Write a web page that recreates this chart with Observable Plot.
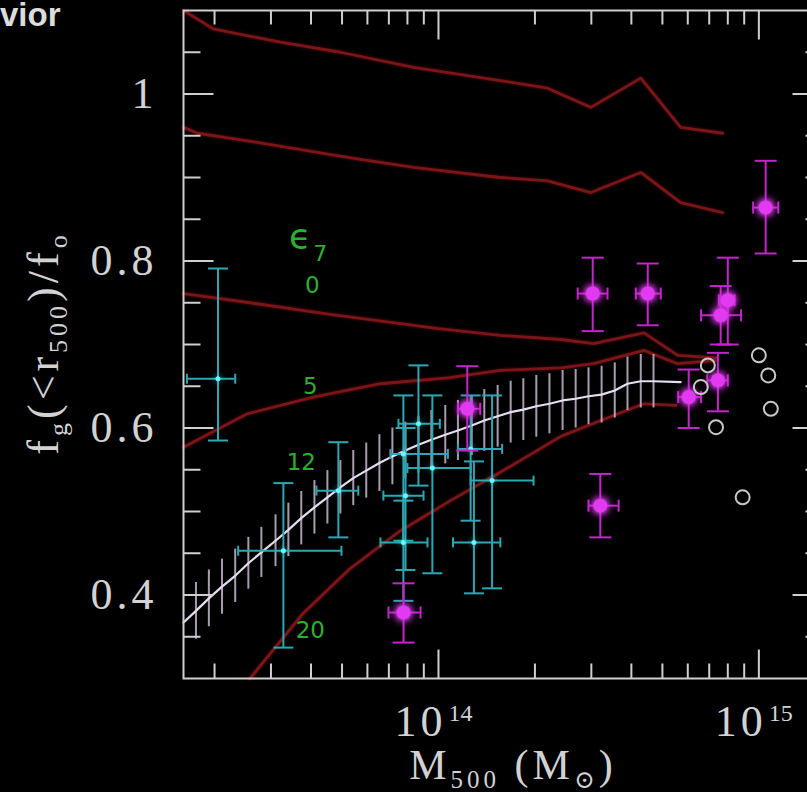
<!DOCTYPE html>
<html>
<head>
<meta charset="utf-8">
<script src="https://cdn.jsdelivr.net/npm/d3@7"></script>
<script src="https://cdn.jsdelivr.net/npm/@observablehq/plot@0.6"></script>
<style>
  html, body { margin: 0; padding: 0; background: #000; overflow: hidden; }
  #wrap { position: relative; width: 807px; height: 792px; overflow: hidden; background: #000; }
</style>
</head>
<body>
<div id="wrap"></div>
<script>
// ---- Axis limits and ticks ----
const massDomain = [1.6e13, 1.58e15];
const fracDomain = [0.3, 1.1];

const massMajorTicks = [1e14, 1e15];
const massTickExponents = ["14", "15"];
const massMinorTicks = [2e13, 3e13, 4e13, 5e13, 6e13, 7e13, 8e13, 9e13,
                        2e14, 3e14, 4e14, 5e14, 6e14, 7e14, 8e14, 9e14];
const fracMajorTicks = [0.4, 0.6, 0.8, 1.0];
const fracMajorLabels = ["0.4", "0.6", "0.8", "1"];
const fracMinorTicks = [0.35, 0.45, 0.5, 0.55, 0.65, 0.7, 0.75, 0.85, 0.9, 0.95, 1.05];

// ---- Model curves (red) ----
const modelTopMass  = [1.60e13, 1.98e13, 3.21e13, 4.94e13, 8.36e13, 1.56e14, 2.19e14, 2.99e14, 4.28e14, 5.70e14, 7.71e14];
const modelTopFrac  = [1.100, 1.078, 1.062, 1.050, 1.032, 1.016, 1.007, 0.984, 1.019, 0.960, 0.953];
const modelUpperMass = [1.60e13, 1.77e13, 2.53e13, 5.20e13, 8.36e13, 1.56e14, 2.19e14, 2.99e14, 4.28e14, 5.70e14, 7.71e14];
const modelUpperFrac = [0.960, 0.953, 0.944, 0.924, 0.912, 0.900, 0.896, 0.882, 0.906, 0.870, 0.858];
const modelEps0Mass = [1.60e13, 2.58e13, 4.59e13, 1.00e14, 1.56e14, 2.41e14, 3.05e14, 4.38e14, 5.58e14, 7.35e14];
const modelEps0Frac = [0.761, 0.750, 0.736, 0.719, 0.711, 0.706, 0.701, 0.714, 0.687, 0.684];
const modelEps5Mass = [1.60e13, 2.53e13, 4.07e13, 6.59e13, 1.07e14, 1.56e14, 2.41e14, 3.05e14, 4.38e14, 5.58e14, 7.35e14];
const modelEps5Frac = [0.577, 0.617, 0.637, 0.653, 0.660, 0.669, 0.672, 0.677, 0.693, 0.677, 0.681];
const modelEps20Mass = [2.58e13, 3.78e13, 5.31e13, 7.61e13, 1.09e14, 1.56e14, 2.41e14, 3.21e14, 4.38e14, 5.51e14];
const modelEps20Frac = [0.300, 0.378, 0.432, 0.477, 0.513, 0.547, 0.590, 0.609, 0.629, 0.627];

// ---- Simulated mean relation (white) with scatter bars ----
const simMass = [1.60e13, 1.75e13, 1.92e13, 2.11e13, 2.32e13, 2.55e13, 2.80e13, 3.10e13, 3.40e13, 3.73e13, 4.10e13,
                 4.50e13, 4.94e13, 5.42e13, 5.95e13, 6.54e13, 7.18e13, 7.88e13, 8.66e13, 9.50e13, 1.05e14,
                 1.15e14, 1.27e14, 1.39e14, 1.53e14, 1.68e14, 1.84e14, 2.02e14, 2.22e14, 2.44e14, 2.68e14,
                 2.94e14, 3.23e14, 3.55e14, 3.89e14, 4.28e14, 4.69e14, 5.70e14];
const simFrac = [0.367, 0.381, 0.396, 0.410, 0.423, 0.438, 0.451, 0.465, 0.478, 0.492, 0.505,
                 0.517, 0.529, 0.540, 0.549, 0.558, 0.566, 0.573, 0.580, 0.586, 0.592,
                 0.597, 0.603, 0.609, 0.614, 0.619, 0.622, 0.626, 0.629, 0.633, 0.635,
                 0.638, 0.640, 0.645, 0.653, 0.656, 0.656, 0.655];
const simErr  = [null, 0.034, 0.034, 0.033, 0.032, 0.031, 0.030, 0.031, 0.032, 0.032, 0.032,
                 0.032, 0.032, 0.033, 0.033, 0.034, 0.034, 0.034, 0.034, 0.035, 0.035,
                 0.036, 0.036, 0.037, 0.037, 0.037, 0.037, 0.037, 0.036, 0.036, 0.035,
                 0.034, 0.034, 0.033, 0.032, 0.032, 0.032, null];

// ---- Low-mass sample (cyan) ----
const cyanMass   = [2.05e13, 3.28e13, 4.87e13, 7.77e13, 7.89e13, 8.66e13, 9.57e13, 7.77e13, 1.26e14, 1.29e14, 1.47e14];
const cyanMassLo = [1.64e13, 2.37e13, 4.16e13, 7.08e13, 6.73e13, 7.50e13, 8.00e13, 6.59e13, 1.15e14, 1.11e14, 1.26e14];
const cyanMassHi = [2.32e13, 4.98e13, 5.62e13, 1.07e14, 8.98e13, 1.01e14, 1.26e14, 9.24e13, 1.58e14, 1.56e14, 1.98e14];
const cyanFrac   = [0.659, 0.453, 0.525, 0.569, 0.519, 0.605, 0.552, 0.463, 0.575, 0.463, 0.537];
const cyanFracLo = [0.585, 0.337, 0.469, 0.465, 0.430, 0.531, 0.426, 0.393, 0.489, 0.402, 0.408];
const cyanFracHi = [0.791, 0.534, 0.583, 0.639, 0.600, 0.675, 0.639, 0.513, 0.639, 0.560, 0.639];

// ---- High-mass sample (magenta) ----
const magMass   = [3.03e14, 4.50e14, 8.00e14, 7.60e14, 1.05e15, 3.20e14, 7.78e13, 1.23e14, 6.04e14, 7.45e14];
const magMassLo = [2.72e14, 4.13e14, 7.50e14, 6.60e14, 9.60e14, 2.94e14, 6.98e13, 1.15e14, 5.60e14, 6.90e14];
const magMassHi = [3.37e14, 4.94e14, 8.40e14, 8.80e14, 1.15e15, 3.65e14, 8.79e13, 1.35e14, 6.60e14, 8.00e14];
const magFrac   = [0.761, 0.761, 0.753, 0.735, 0.864, 0.507, 0.379, 0.623, 0.637, 0.657];
const magFracLo = [0.716, 0.723, 0.700, 0.700, 0.809, 0.469, 0.343, 0.573, 0.600, 0.620];
const magFracHi = [0.804, 0.797, 0.804, 0.770, 0.920, 0.545, 0.414, 0.674, 0.670, 0.690];

// ---- Open circles ----
const ringMass = [6.93e14, 6.59e14, 7.35e14, 1.00e15, 1.07e15, 1.09e15, 8.90e14];
const ringFrac = [0.675, 0.649, 0.601, 0.687, 0.663, 0.623, 0.517];

// ---- Curve annotations ----
const epsLabelText = ["0", "5", "12", "20"];
const epsLabelMass = [4.04e13, 3.98e13, 3.73e13, 3.98e13];
const epsLabelFrac = [0.771, 0.649, 0.559, 0.357];
const epsHeaderMass = 3.70e13;
const epsHeaderFrac = 0.828;

// ---- Styling ----
const axisColor = "#cfcfcf";
const labelColor = "#d2d2d2";
const redColor = "#7c1518";
const cyanColor = "#2aa9b4";
const magColor = "#c524cc";
const greenColor = "#2fae2f";
const serif = "'Liberation Serif', 'DejaVu Serif', serif";

// Build tables from the arrays
const curves = [
  ["top", modelTopMass, modelTopFrac],
  ["upper", modelUpperMass, modelUpperFrac],
  ["eps0", modelEps0Mass, modelEps0Frac],
  ["eps5", modelEps5Mass, modelEps5Frac],
  ["eps20", modelEps20Mass, modelEps20Frac]
].flatMap(([name, ms, fs]) => ms.map((M, i) => ({name, M, f: fs[i]})));

const sim = simMass.map((M, i) => ({M, f: simFrac[i], e: simErr[i]}));
const simBars = sim.filter(d => d.e != null);

const table = (ms, lo, hi, fs, flo, fhi) =>
  ms.map((M, i) => ({M, Mlo: lo[i], Mhi: hi[i], f: fs[i], flo: flo[i], fhi: fhi[i]}));
const cyan = table(cyanMass, cyanMassLo, cyanMassHi, cyanFrac, cyanFracLo, cyanFracHi);
const mag = table(magMass, magMassLo, magMassHi, magFrac, magFracLo, magFracHi);
const rings = ringMass.map((M, i) => ({M, f: ringFrac[i]}));
const epsLabels = epsLabelText.map((t, i) => ({t, M: epsLabelMass[i], f: epsLabelFrac[i]}));

// Pixel-length line symbols (length taken from r)
const len = size => Math.sqrt(size / Math.PI);
const seg = (dx, dy) => ({draw(ctx, size) { const L = len(size); ctx.moveTo(0, 0); ctx.lineTo(dx * L, dy * L); }});
const capH = {draw(ctx, size) { const L = len(size); ctx.moveTo(-L, 0); ctx.lineTo(L, 0); }};
const capV = {draw(ctx, size) { const L = len(size); ctx.moveTo(0, -L); ctx.lineTo(0, L); }};

const tickMarks = (values, axis, at, dir, r) =>
  Plot.dot(values, {
    x: axis === "x" ? d => d : at,
    y: axis === "x" ? at : d => d,
    symbol: seg(dir[0], dir[1]), r, stroke: axisColor, strokeWidth: 2, fill: "none"
  });

const errorMarks = (rows, color, capW, capHt) => [
  Plot.ruleX(rows, {x: "M", y1: "flo", y2: "fhi", stroke: color, strokeWidth: 2}),
  Plot.ruleY(rows, {y: "f", x1: "Mlo", x2: "Mhi", stroke: color, strokeWidth: 2}),
  Plot.dot(rows, {x: "M", y: "flo", symbol: capH, r: capW, stroke: color, strokeWidth: 2, fill: "none"}),
  Plot.dot(rows, {x: "M", y: "fhi", symbol: capH, r: capW, stroke: color, strokeWidth: 2, fill: "none"}),
  Plot.dot(rows, {x: "Mlo", y: "f", symbol: capV, r: capHt, stroke: color, strokeWidth: 2, fill: "none"}),
  Plot.dot(rows, {x: "Mhi", y: "f", symbol: capV, r: capHt, stroke: color, strokeWidth: 2, fill: "none"})
];

const W = 830, H = 792;
const chart = Plot.plot({
  width: W,
  height: H,
  marginLeft: 183,
  marginRight: 8,
  marginTop: 10,
  marginBottom: 114,
  style: {background: "#000", maxWidth: "none", overflow: "visible"},
  x: {type: "log", domain: massDomain, axis: null},
  y: {domain: fracDomain, axis: null},
  marks: [
    // model curves
    Plot.line(curves, {x: "M", y: "f", z: "name", stroke: redColor, strokeWidth: 2.8, ariaDescription: "models"}),
    // simulated scatter bars and mean relation
    Plot.ruleX(simBars, {x: "M", y1: d => d.f - d.e, y2: d => d.f + d.e, stroke: "#c2b8cc", strokeWidth: 2, strokeOpacity: 0.85}),
    Plot.line(sim, {x: "M", y: "f", stroke: "#e6def0", strokeWidth: 2.2}),
    // cyan sample
    ...errorMarks(cyan, cyanColor, 10, 5),
    Plot.dot(cyan, {x: "M", y: "f", r: 2.5, fill: "#6ff2f8", ariaDescription: "cyan-centres"}),
    // magenta sample
    ...errorMarks(mag, magColor, 11, 6),
    Plot.dot(mag, {x: "M", y: "f", r: 7, fill: "#e23af0", ariaDescription: "mag-centres"}),
    // open circles
    Plot.dot(rings, {x: "M", y: "f", r: 7, stroke: "#c8c8c8", strokeWidth: 2, fill: "none"}),
    // curve annotations
    Plot.text(epsLabels, {x: "M", y: "f", text: "t", fill: greenColor, fontSize: 23, fontFamily: "'DejaVu Sans', sans-serif"}),
    Plot.text([epsHeaderMass], {x: d => d, y: epsHeaderFrac, text: () => "\u03f5", fill: greenColor, fontSize: 36, fontFamily: "'DejaVu Sans', sans-serif"}),
    Plot.text([epsHeaderMass], {x: d => d, y: epsHeaderFrac, text: () => "7", dx: 20, dy: 16, fill: greenColor, fontSize: 22, fontFamily: "'DejaVu Sans', sans-serif"}),
    // frame and ticks
    Plot.frame({stroke: axisColor, strokeWidth: 2}),
    tickMarks(massMinorTicks, "x", fracDomain[0], [0, -1], 15),
    tickMarks(massMajorTicks, "x", fracDomain[0], [0, -1], 29),
    tickMarks(massMinorTicks, "x", fracDomain[1], [0, 1], 14),
    tickMarks(massMajorTicks, "x", fracDomain[1], [0, 1], 29),
    tickMarks(fracMinorTicks, "y", massDomain[0], [1, 0], 17),
    tickMarks(fracMajorTicks, "y", massDomain[0], [1, 0], 30),
    tickMarks(fracMinorTicks, "y", massDomain[1], [-1, 0], 17),
    tickMarks(fracMajorTicks, "y", massDomain[1], [-1, 0], 30),
    // tick labels
    Plot.text(fracMajorTicks, {x: massDomain[0], y: d => d, text: (d, i) => fracMajorLabels[i], dx: -26, textAnchor: "end",
      fill: labelColor, fontSize: 44, fontFamily: serif, ariaDescription: "tick-labels"}),
    Plot.text(massMajorTicks, {x: d => d, y: fracDomain[0], text: () => "10", dx: 8, dy: 43, textAnchor: "end",
      fill: labelColor, fontSize: 44, fontFamily: serif, ariaDescription: "tick-labels"}),
    Plot.text(massMajorTicks, {x: d => d, y: fracDomain[0], text: (d, i) => massTickExponents[i], dx: 10, dy: 35, textAnchor: "start",
      fill: labelColor, fontSize: 24, fontFamily: serif})
  ]
});

const wrap = document.getElementById("wrap");
wrap.appendChild(chart);

const svg = d3.select(chart);
svg.selectAll('[aria-description="tick-labels"]').style("letter-spacing", "4px");
svg.selectAll('[aria-description="mag-centres"]').style("filter", "drop-shadow(0 0 4px #d02ee0) drop-shadow(0 0 2px #e040f0)");
svg.selectAll('[aria-description="cyan-centres"]').style("filter", "drop-shadow(0 0 3px #40e0f0)");
svg.selectAll('[aria-description="models"]').style("filter", "drop-shadow(0 0 1.5px #5a0a0e)");

// Axis titles
const yTitle = svg.append("text")
  .attr("transform", "translate(58,343) rotate(-90)")
  .attr("text-anchor", "middle")
  .attr("fill", labelColor)
  .style("font-family", serif)
  .style("font-size", "44px")
  .style("letter-spacing", "4px");
yTitle.append("tspan").text("f");
yTitle.append("tspan").attr("dy", 9).style("font-size", "26px").text("g");
yTitle.append("tspan").attr("dy", -9).text("(<r");
yTitle.append("tspan").attr("dy", 9).style("font-size", "26px").text("500");
yTitle.append("tspan").attr("dy", -9).text(")/f");
yTitle.append("tspan").attr("dy", 9).style("font-size", "26px").text("o");

const xTitle = svg.append("text")
  .attr("x", 513).attr("y", 779)
  .attr("text-anchor", "middle")
  .attr("fill", labelColor)
  .style("font-family", serif)
  .style("font-size", "42px")
  .style("letter-spacing", "4px");
xTitle.append("tspan").text("M");
xTitle.append("tspan").attr("dy", 9).style("font-size", "25px").text("500");
xTitle.append("tspan").attr("dy", -9).text(" (M");
xTitle.append("tspan").attr("dy", 9).style("font-size", "25px").text("\u2299");
xTitle.append("tspan").attr("dy", -9).text(")");

// Heading fragment at the top-left corner
svg.append("text")
  .attr("x", 0).attr("y", 26)
  .attr("text-anchor", "start")
  .attr("fill", "#dcdcdc")
  .style("font-family", "'Liberation Sans', Arial, sans-serif")
  .style("font-weight", "bold")
  .style("font-size", "33px")
  .text("vior");
</script>
</body>
</html>
